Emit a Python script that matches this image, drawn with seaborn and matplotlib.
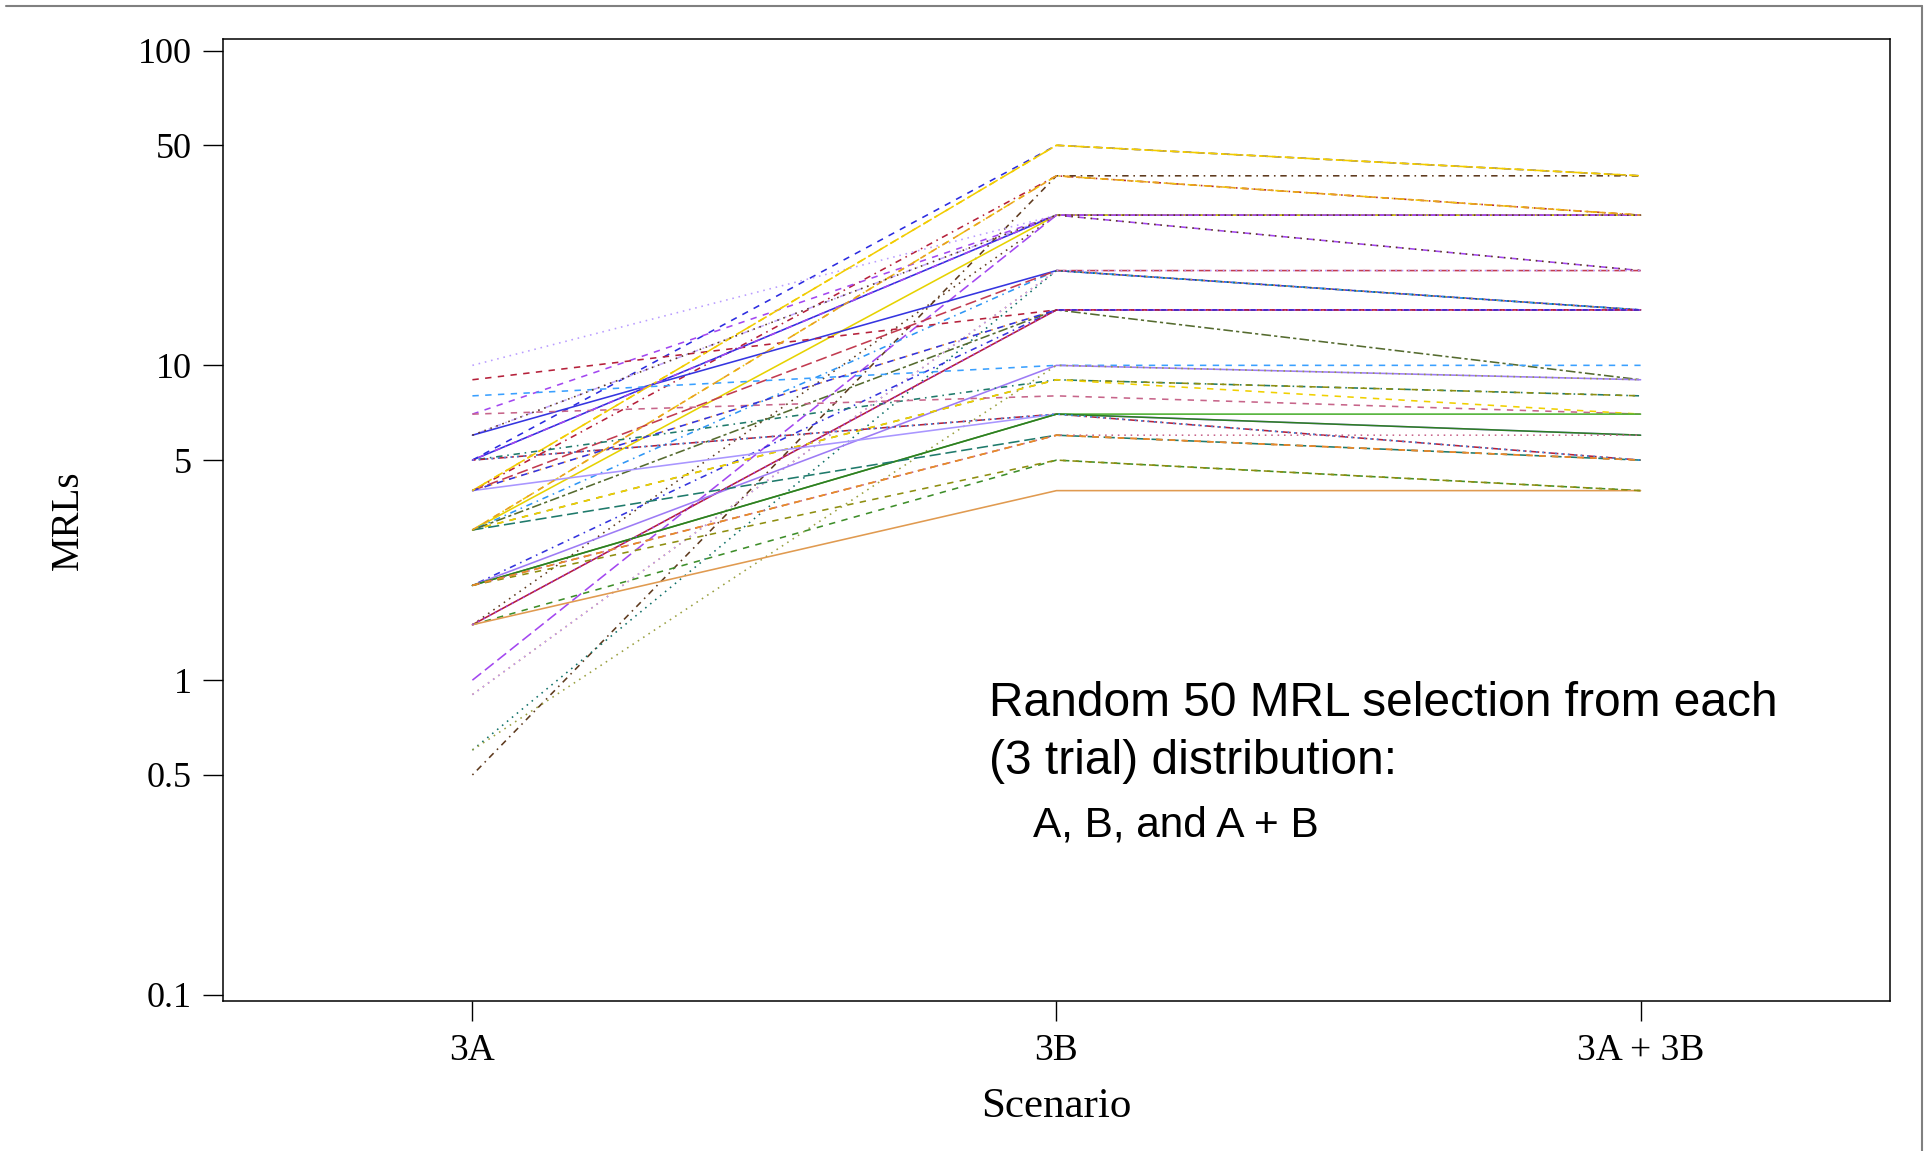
import numpy as np
import pandas as pd
import matplotlib
matplotlib.use("Agg")
import matplotlib.pyplot as plt
from matplotlib.lines import Line2D
from matplotlib.ticker import NullLocator, FixedLocator, FixedFormatter
import seaborn as sns

# ---------------- data ----------------
scenarios = ["3A", "3B", "3A + 3B"]

mrl_3a = [5, 4, 4, 3, 0.5, 10, 7, 6, 5, 3, 1.5, 1, 6, 3, 0.9, 4, 0.6, 0.9,
          9, 4, 3, 2, 1.5, 8, 2, 0.6, 5, 3, 3, 7, 5, 4, 2, 2, 3, 2, 2, 1.5,
          1.5, 5, 5, 4, 2, 3, 1.5, 4, 6, 2]
mrl_3b = [50, 50, 40, 40, 40, 30, 30, 30, 30, 30, 30, 30, 20, 20, 20, 20, 20, 20,
          15, 15, 15, 15, 15, 10, 10, 10, 9, 9, 9, 8, 7, 7, 7, 7, 6, 6, 6, 5,
          4, 7, 30, 15, 5, 40, 15, 50, 30, 6]
mrl_3ab = [40, 40, 30, 30, 40, 30, 20, 30, 30, 30, 20, 30, 15, 15, 15, 20, 15, 20,
           15, 15, 9, 15, 15, 10, 9, 9, 8, 8, 7, 7, 5, 6, 7, 6, 5, 5, 6, 4,
           4, 5, 30, 15, 4, 30, 15, 40, 30, 5]

line_colors = ["#2B2BE0", "#F2CC00", "#B5203A", "#F0C808", "#5E3A1E", "#B99CFF",
               "#A347F0", "#C4A8FF", "#2D2DDD", "#E6D200", "#5E3A1E", "#A347F0",
               "#3535E0", "#2E96F5", "#E88A2A", "#C23B50", "#0F7068", "#B99CFF",
               "#B5203A", "#E88A2A", "#556B2F", "#3333DD", "#B31B3A", "#3AA0FF",
               "#9D7BF5", "#9AA040", "#1F7A6B", "#8E8E10", "#F0D000", "#C7658A",
               "#B5203A", "#A996FF", "#4CB030", "#2E7D22", "#1F7A6B", "#D27A3A",
               "#C7658A", "#3E8E2A", "#E09A50", "#2E96F5", "#A347F0", "#3333DD",
               "#8E8E10", "#E8A020", "#A347F0", "#F2CC00", "#5E3A1E", "#E88A2A"]

line_types = ["dashed", "dashed", "dotdash", "dotdash", "dotdash", "dotted",
              "dashed", "dotdash", "solid", "solid", "dotted", "longdash",
              "solid", "dotdash", "dotted", "longdash", "dotted", "dotted",
              "dashed", "dotted", "twodash", "dotdash", "solid", "dashed",
              "solid", "dotted", "dotdash", "dashed", "dashed", "dashed",
              "twodash", "solid", "solid", "solid", "longdash", "dashed",
              "dotted", "dashed", "solid", "dotted", "dotdash", "dashed",
              "dashed", "dashed", "dotted", "twodash", "dotted", "dashed"]

ytick_values = [0.1, 0.5, 1, 5, 10, 50, 100]
ytick_labels = ["0.1", "0.5", "1", "5", "10", "50", "100"]

annotation_lines = ["Random 50 MRL selection from each", "(3 trial) distribution:",
                    "A, B, and A + B"]

# ---------------- style ----------------
sns.set_style("ticks")
plt.rcParams["font.family"] = ["Liberation Serif", "DejaVu Serif"]
plt.rcParams["text.color"] = "black"
plt.rcParams["axes.labelcolor"] = "black"
plt.rcParams["xtick.color"] = "black"
plt.rcParams["ytick.color"] = "black"

W, H = 1933, 1151
fig = plt.figure(figsize=(W / 100, H / 100), dpi=100)
ax_left, ax_right, ax_top, ax_bottom = 223, 1890, 39.5, 1001
ax = fig.add_axes([ax_left / W, 1 - ax_bottom / H,
                   (ax_right - ax_left) / W, (ax_bottom - ax_top) / H])

dash_map = {"solid": "", "dashed": (4, 4), "dotted": (1, 3),
            "dotdash": (1, 3, 4, 3), "longdash": (7, 3), "twodash": (2, 2, 6, 2)}

ids = [f"L{i:02d}" for i in range(len(mrl_3a))]
rows = []
for i, lid in enumerate(ids):
    for pos, vals in enumerate([mrl_3a, mrl_3b, mrl_3ab]):
        rows.append({"line": lid, "pos": pos, "MRL": vals[i]})
df = pd.DataFrame(rows)

palette = {lid: c for lid, c in zip(ids, line_colors)}
dashes = {lid: dash_map[t] for lid, t in zip(ids, line_types)}

sns.lineplot(data=df, x="pos", y="MRL", hue="line", style="line",
             palette=palette, dashes=dashes, estimator=None, sort=False,
             legend=False, linewidth=1.15, ax=ax)

ax.set_yscale("log")
ax.set_ylim(0.0957, 108.4)
ax.set_xlim(-0.427, 2.427)
ax.yaxis.set_major_locator(FixedLocator(ytick_values))
ax.yaxis.set_major_formatter(FixedFormatter(ytick_labels))
ax.yaxis.set_minor_locator(NullLocator())
ax.set_xticks([0, 1, 2])
ax.set_xticklabels(scenarios)

for sp in ax.spines.values():
    sp.set_visible(True)
    sp.set_color("black")
    sp.set_linewidth(1.1)

ax.tick_params(axis="both", which="major", direction="out", length=14.5,
               width=1.0, color="black", pad=8, labelcolor="black")
ax.tick_params(axis="y", labelsize=26)
ax.tick_params(axis="x", labelsize=27, pad=9)

ax.set_xlabel("Scenario", fontsize=31, color="black")
ax.set_ylabel("MRLs", fontsize=28, color="black")
ax.xaxis.set_label_coords(0.5, -(1107 - ax_bottom) / (ax_bottom - ax_top))
ax.xaxis.label.set_va("center")
ax.yaxis.set_label_coords(-(ax_left - 68) / (ax_right - ax_left), 0.5)
ax.yaxis.label.set_va("center")

# annotation
sans = ["Liberation Sans", "DejaVu Sans"]
fig.text(989 / W, 1 - 704 / H, annotation_lines[0], fontsize=34.5,
         family=sans, va="center", ha="left", color="black")
fig.text(989 / W, 1 - 761 / H, annotation_lines[1], fontsize=34.5,
         family=sans, va="center", ha="left", color="black")
fig.text(1033 / W, 1 - 826 / H, annotation_lines[2], fontsize=30.5,
         family=sans, va="center", ha="left", color="black")

# page frame lines (top and right)
fig.add_artist(Line2D([6 / W, 1922 / W], [1 - 6 / H, 1 - 6 / H],
                      transform=fig.transFigure, color="#808080", lw=1.5))
fig.add_artist(Line2D([1922 / W, 1922 / W], [1 - 6 / H, 0],
                      transform=fig.transFigure, color="#808080", lw=1.5))

fig.savefig("out.png", dpi=100, facecolor="white")
